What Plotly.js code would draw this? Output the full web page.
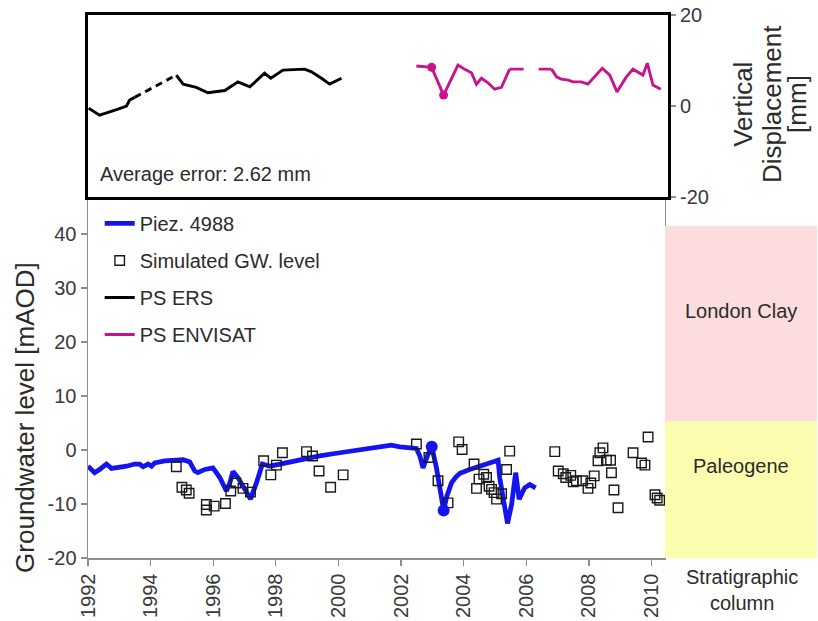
<!DOCTYPE html>
<html>
<head>
<meta charset="utf-8">
<script src="https://cdn.plot.ly/plotly-3.0.1.min.js"></script>
<style>
  html, body { margin: 0; padding: 0; background: #ffffff; }
  #chart { width: 818px; height: 621px; }
</style>
</head>
<body>
<div id="chart"></div>
<script>
// Piezometer 4988: observed groundwater level (mAOD)
const piezYear = [1992.00, 1992.11, 1992.21, 1992.37, 1992.59, 1992.75, 1992.96, 1993.23, 1993.49, 1993.65,
  1993.76, 1993.92, 1994.03, 1994.13, 1994.45, 1994.72, 1995.04, 1995.25, 1995.41, 1995.51,
  1995.73, 1995.99, 1996.21, 1996.42, 1996.53, 1996.63, 1996.79, 1997.01, 1997.19, 1997.38,
  1997.57, 1997.81, 1998.12, 1998.34, 1998.87, 1999.40, 1999.94, 2000.47, 2001.00, 2001.53,
  2001.69, 2001.96, 2002.49, 2002.60, 2002.70, 2002.86, 2002.98, 2003.13, 2003.26, 2003.36,
  2003.45, 2003.53, 2003.61, 2003.75, 2003.88, 2004.19, 2004.51, 2004.83, 2005.10, 2005.15,
  2005.26, 2005.40, 2005.53, 2005.66, 2005.77, 2005.95, 2006.11, 2006.30];
const piezLevel = [-3.0, -3.6, -4.2, -3.6, -2.6, -3.4, -3.3, -3.0, -2.6, -2.6,
  -3.1, -2.6, -3.0, -2.4, -2.0, -1.9, -1.8, -2.2, -3.9, -4.2,
  -3.6, -3.3, -5.1, -7.6, -6.1, -4.0, -5.1, -7.3, -9.1, -6.1,
  -2.6, -3.0, -2.6, -2.5, -1.7, -1.1, -0.6, -0.1, 0.4, 0.7,
  0.9, 0.6, 0.3, -1.1, -3.3, -0.8, 0.6, -3.3, -7.6, -11.2,
  -8.8, -7.2, -6.1, -5.0, -4.3, -3.6, -3.0, -2.4, -1.9, -5.1,
  -9.4, -13.6, -10.1, -4.2, -9.1, -7.0, -6.4, -7.0];

// Simulated groundwater level (mAOD)
const simYear = [1994.82, 1995.00, 1995.14, 1995.23, 1995.78, 1995.78, 1996.03, 1996.39, 1996.56, 1996.72,
  1996.95, 1997.19, 1997.61, 1997.84, 1998.02, 1998.21, 1998.98, 1999.17, 1999.38, 1999.75,
  2000.15, 2002.49, 2002.89, 2003.18, 2003.50, 2003.84, 2003.95, 2004.33, 2004.41, 2004.49,
  2004.64, 2004.73, 2004.81, 2004.89, 2004.97, 2005.05, 2005.21, 2005.37, 2005.47, 2006.91,
  2007.02, 2007.18, 2007.26, 2007.42, 2007.50, 2007.60, 2007.80, 2007.97, 2008.06, 2008.17,
  2008.29, 2008.35, 2008.45, 2008.56, 2008.69, 2008.72, 2008.80, 2008.93, 2009.41, 2009.68,
  2009.79, 2009.89, 2010.11, 2010.18, 2010.26];
const simLevel = [-3.1, -6.9, -7.4, -8.0, -10.1, -11.1, -10.4, -9.9, -7.6, -6.1,
  -7.1, -7.8, -2.0, -4.6, -2.8, -0.5, -0.3, -1.1, -3.9, -6.9,
  -4.6, 1.1, -1.4, -5.7, -9.8, 1.5, 0.1, -2.6, -7.1, -5.4,
  -4.5, -5.1, -6.7, -7.3, -7.9, -9.1, -8.1, -3.6, -0.2, -0.3,
  -3.9, -4.4, -5.1, -4.7, -5.9, -5.7, -5.7, -7.1, -6.1, -4.8,
  -2.0, -0.5, 0.4, -1.9, -1.9, -4.2, -7.4, -10.7, -0.5, -2.4,
  -2.8, 2.4, -8.3, -8.9, -9.3];

// PS ERS vertical displacement (mm); null marks a gap in the record
const ersYear = [1992.02, 1992.37, 1992.96, 1993.23, 1993.33, 1993.49, null,
  1994.82, 1995.04, 1995.46, 1995.83, 1996.37, 1996.79, 1997.17, 1997.64, 1997.84,
  1998.23, 1998.92, 1999.14, 1999.46, 1999.72, 2000.10];
const ersDisp = [-0.5, -2.0, -0.7, 0.0, 1.3, 1.9, null,
  6.8, 4.8, 4.1, 2.9, 3.4, 5.3, 4.2, 7.2, 6.1,
  7.9, 8.1, 7.5, 6.1, 4.8, 6.1];

// PS ENVISAT vertical displacement (mm); null marks a gap in the record
const envYear = [2002.49, 2002.98, 2003.36, 2003.82, 2003.98, 2004.25, 2004.41, 2004.57, 2004.78, 2004.99,
  2005.21, 2005.47, null, 2006.81, 2006.97, 2007.12, 2007.34, 2007.50, 2007.76, 2007.97,
  2008.19, 2008.43, 2008.67, 2008.90, 2009.20, 2009.41, 2009.73, 2009.87, 2010.05, 2010.30];
const envDisp = [8.8, 8.5, 2.4, 9.0, 8.3, 7.3, 4.8, 6.1, 5.1, 3.7,
  4.1, 8.1, null, 8.1, 6.4, 5.9, 5.7, 5.3, 5.3, 4.8,
  6.4, 8.3, 6.8, 3.1, 6.4, 8.1, 6.8, 9.4, 4.6, 3.7];

// Dates marked on both the piezometer and the ENVISAT series
const highlightYear = [2002.98, 2003.36];

// Stratigraphic column (mAOD)
const stratName = ['London Clay', 'Paleogene'];
const stratTop = [41.5, 5.3];
const stratBase = [5.3, -20];

// Axis ticks
const yearTicks = [1992, 1994, 1996, 1998, 2000, 2002, 2004, 2006, 2008, 2010];
const yearTickText = ['1992', '1994', '1996', '1998', '2000', '2002', '2004', '2006', '2008', '2010'];
const levelTicks = [-20, -10, 0, 10, 20, 30, 40];
const levelTickText = ['-20', '-10', '0', '10', '20', '30', '40'];
const dispTicks = [-20, 0, 20];
const dispTickText = ['-20', '0', '20'];

const FONT = "'Liberation Sans', Arial, sans-serif";
const TXT = '#2b2b2b';
const AXIS_GREY = '#8f8f8f';
const BLUE = '#1414f0';
const MAGENTA = '#c8148c';

// dashed connectors across the nulls of a series
function gapBridges(xs, ys) {
  const bx = [], by = [];
  for (let i = 1; i < xs.length - 1; i++) {
    if (ys[i] === null) {
      bx.push(xs[i - 1], xs[i + 1], null);
      by.push(ys[i - 1], ys[i + 1], null);
    }
  }
  return { x: bx, y: by };
}

function valuesAt(xs, ys, wanted) {
  return wanted.map(w => {
    const i = xs.findIndex(v => v !== null && Math.abs(v - w) < 1e-6);
    return i >= 0 ? ys[i] : null;
  });
}

const ersGap = gapBridges(ersYear, ersDisp);
const envGap = gapBridges(envYear, envDisp);

const traces = [
  {
    x: piezYear, y: piezLevel, type: 'scatter', mode: 'lines', name: 'Piez. 4988',
    line: { color: BLUE, width: 4.8 }, xaxis: 'x', yaxis: 'y', legendgroup: 'g1'
  },
  {
    x: simYear, y: simLevel, type: 'scatter', mode: 'markers', name: 'Simulated GW. level',
    marker: { symbol: 'square-open', size: 9.5, color: '#1a1a1a', line: { width: 1.4 } },
    xaxis: 'x', yaxis: 'y', legendgroup: 'g2'
  },
  {
    x: ersYear, y: ersDisp, type: 'scatter', mode: 'lines', name: 'PS ERS',
    line: { color: '#000000', width: 2.9 }, connectgaps: false,
    xaxis: 'x2', yaxis: 'y2', legendgroup: 'g3'
  },
  {
    x: envYear, y: envDisp, type: 'scatter', mode: 'lines', name: 'PS ENVISAT',
    line: { color: MAGENTA, width: 2.9 }, connectgaps: false,
    xaxis: 'x2', yaxis: 'y2', legendgroup: 'g4'
  },
  {
    x: ersGap.x, y: ersGap.y, type: 'scatter', mode: 'lines', showlegend: false,
    line: { color: '#000000', width: 2.9, dash: '7px,5px' }, xaxis: 'x2', yaxis: 'y2', hoverinfo: 'skip'
  },
  {
    x: envGap.x, y: envGap.y, type: 'scatter', mode: 'lines', showlegend: false,
    line: { color: MAGENTA, width: 2.9, dash: '14px,15px' }, xaxis: 'x2', yaxis: 'y2', hoverinfo: 'skip'
  },
  {
    x: highlightYear, y: valuesAt(piezYear, piezLevel, highlightYear), type: 'scatter', mode: 'markers',
    showlegend: false, marker: { color: BLUE, size: 12 }, xaxis: 'x', yaxis: 'y'
  },
  {
    x: highlightYear, y: valuesAt(envYear, envDisp, highlightYear), type: 'scatter', mode: 'markers',
    showlegend: false, marker: { color: MAGENTA, size: 9 }, xaxis: 'x2', yaxis: 'y2'
  },
  {
    x: stratName.map(() => 0.5), y: stratTop.map((t, i) => t - stratBase[i]), base: stratBase,
    type: 'bar', width: 1, showlegend: false, hoverinfo: 'skip',
    marker: { color: ['#fcdcdc', '#fdfdb0'], line: { width: 0 } },
    xaxis: 'x3', yaxis: 'y'
  }
];

const stratLabelShift = [13, 24];

const layout = {
  width: 818, height: 621,
  margin: { l: 88, r: 0, t: 15, b: 63 },
  paper_bgcolor: '#ffffff', plot_bgcolor: 'rgba(0,0,0,0)',
  font: { family: FONT, color: TXT, size: 20 },
  showlegend: true,
  barmode: 'overlay',
  legend: {
    x: 0.016, y: 0.652, xanchor: 'left', yanchor: 'top',
    bgcolor: 'rgba(0,0,0,0)', font: { size: 20, color: TXT },
    tracegroupgap: 8, itemwidth: 30
  },
  xaxis: {
    domain: [0, 0.7904], range: [1992, 2010.43], anchor: 'y',
    showline: true, linecolor: AXIS_GREY, linewidth: 1.5,
    ticks: 'outside', ticklen: 6, tickcolor: AXIS_GREY, tickwidth: 1.2,
    tickvals: yearTicks, ticktext: yearTickText, tickangle: -90,
    tickfont: { size: 20, color: '#3a3a3a' },
    showgrid: false, zeroline: false, automargin: false
  },
  yaxis: {
    domain: [0, 0.6593], range: [-20, 46.3], anchor: 'x',
    showline: true, linecolor: AXIS_GREY, linewidth: 1.5, mirror: true,
    ticks: 'outside', ticklen: 6, tickcolor: AXIS_GREY, tickwidth: 1.2,
    tickvals: levelTicks, ticktext: levelTickText,
    tickfont: { size: 20, color: '#3a3a3a' },
    showgrid: false, zeroline: false, automargin: false
  },
  xaxis2: {
    domain: [0, 0.7945], range: [1992, 2010.53], anchor: 'y2',
    showline: true, linecolor: '#000000', linewidth: 3, mirror: true,
    ticks: '', showticklabels: false, showgrid: false, zeroline: false
  },
  yaxis2: {
    domain: [0.6648, 1], range: [-20, 20], anchor: 'x2', side: 'right',
    showline: true, linecolor: '#000000', linewidth: 3, mirror: true,
    ticks: 'outside', ticklen: 5, tickcolor: AXIS_GREY, tickwidth: 1.2,
    tickvals: dispTicks, ticktext: dispTickText,
    tickfont: { size: 20, color: '#3a3a3a' },
    showgrid: false, zeroline: false, automargin: false
  },
  xaxis3: {
    domain: [0.7904, 0.9986], range: [0, 1], anchor: 'y', visible: false
  },
  annotations: [
    {
      text: 'Average error: 2.62 mm', xref: 'x2 domain', yref: 'y2 domain',
      x: 0.017, y: 0.126, xanchor: 'left', yanchor: 'middle', showarrow: false,
      font: { size: 20, color: TXT }
    },
    {
      text: 'Groundwater level [mAOD]', xref: 'paper', yref: 'paper',
      x: -0.0863, y: 0.258, textangle: -90, xanchor: 'center', yanchor: 'middle', showarrow: false,
      font: { size: 26, color: TXT }
    },
    {
      text: 'Vertical', xref: 'paper', yref: 'paper',
      x: 0.897, y: 0.836, textangle: -90, xanchor: 'center', yanchor: 'middle', showarrow: false,
      font: { size: 26, color: TXT }
    },
    {
      text: 'Displacement', xref: 'paper', yref: 'paper',
      x: 0.937, y: 0.836, textangle: -90, xanchor: 'center', yanchor: 'middle', showarrow: false,
      font: { size: 26, color: TXT }
    },
    {
      text: '[mm]', xref: 'paper', yref: 'paper',
      x: 0.971, y: 0.836, textangle: -90, xanchor: 'center', yanchor: 'middle', showarrow: false,
      font: { size: 26, color: TXT }
    },
    {
      text: 'Stratigraphic<br>column', xref: 'paper', yref: 'paper',
      x: 0.896, y: -0.0589, xanchor: 'center', yanchor: 'middle', showarrow: false,
      font: { size: 20, color: TXT }
    }
  ].concat(stratName.map((name, i) => ({
    text: name, xref: 'x3', yref: 'y',
    x: 0.5, y: (stratTop[i] + stratBase[i]) / 2, yshift: stratLabelShift[i],
    xanchor: 'center', yanchor: 'middle', showarrow: false,
    font: { size: 20, color: TXT }
  })))
};

Plotly.newPlot('chart', traces, layout, { displayModeBar: false, staticPlot: true });
</script>
</body>
</html>
